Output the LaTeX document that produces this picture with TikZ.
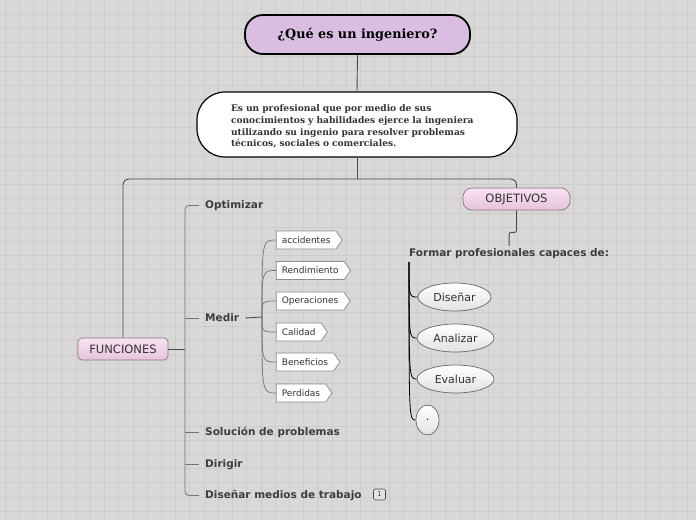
\documentclass[tikz,border=0pt]{standalone}
\usepackage{fontspec}
\usetikzlibrary{shapes.geometric,shapes.symbols}
\newfontfamily\serifb{DejaVu Serif}
\newfontfamily\sansf{DejaVu Sans}
\definecolor{bg}{HTML}{D9D8D7}
\definecolor{gridc}{HTML}{CCCCCC}
\definecolor{titlec}{HTML}{D9BEE2}
\definecolor{pinktop}{HTML}{F8E3F2}
\definecolor{pinkbot}{HTML}{E8C2DD}
\definecolor{pinkdraw}{HTML}{857580}
\definecolor{darkt}{HTML}{333333}
\definecolor{brt}{HTML}{3D3D3D}
\definecolor{linec}{HTML}{4A4A4A}
\definecolor{sublc}{HTML}{747474}
\definecolor{ellbot}{HTML}{E2E2E2}
\definecolor{elldraw}{HTML}{666666}
\definecolor{flagdraw}{HTML}{8C8C8C}
\definecolor{badgefill}{HTML}{E2E2E2}
\tikzset{
  titlebox/.style={draw=black, line width=1.8pt, fill=titlec, rounded corners=18pt,
    minimum width=225pt, minimum height=39pt, text=black,
    font=\serifb\bfseries\fontsize{12.8}{14}\selectfont},
  descbox/.style={draw=black, line width=1.2pt, fill=white, rounded corners=28pt,
    minimum width=320pt, minimum height=65pt, text width=252pt, align=left, text=darkt,
    font=\serifb\bfseries\fontsize{9.1}{11.7}\selectfont},
  pinkbox/.style={draw=pinkdraw, line width=0.7pt, top color=pinktop, bottom color=pinkbot,
    text=darkt, font=\sansf\fontsize{11.5}{13}\selectfont, minimum height=22pt, inner sep=0pt},
  conn/.style={draw=linec, line width=0.9pt},
  brline/.style={draw=sublc, line width=0.8pt},
  subline/.style={draw=sublc, line width=0.7pt},
  objline/.style={draw=black, line width=0.8pt},
  branch/.style={anchor=west, inner xsep=6pt, inner ysep=2pt, text=brt,
    font=\sansf\bfseries\fontsize{10.5}{12}\selectfont},
  flag/.style={signal, signal to=east, signal pointer angle=110, anchor=west,
    draw=flagdraw, line width=0.7pt, fill=white, text=darkt, inner xsep=5.5pt, inner ysep=0pt,
    minimum height=18pt, font=\sansf\fontsize{9}{10}\selectfont},
  ell/.style={ellipse, draw=elldraw, line width=0.7pt, top color=white, bottom color=ellbot,
    text=darkt, inner sep=0pt, minimum height=28pt, font=\sansf\fontsize{11}{12}\selectfont},
  badge/.style={draw=linec, line width=0.6pt, fill=badgefill, rounded corners=2pt,
    minimum width=12pt, minimum height=11pt, inner sep=0pt, text=darkt,
    font=\sansf\fontsize{6.5}{7}\selectfont}
}
\begin{document}
\begin{tikzpicture}[x=1pt,y=-1pt]
\fill[bg] (0,0) rectangle (696,520);
\useasboundingbox (0,0) rectangle (696,520);
\foreach \i in {0,...,49} {\draw[gridc,line width=0.8pt] ({5+14.22*\i},0) -- ++(0,520);}
\foreach \i in {1,...,37} {\draw[gridc,line width=0.8pt] (0,{14.2*\i}) -- ++(696,0);}

% main nodes
\node[titlebox] (title) at (357.5,34.5) {¿Qué es un ingeniero?};
\node[descbox] (desc) at (357,124.5) {\rule{0pt}{11pt}Es un profesional que por medio de sus\\conocimientos y habilidades ejerce la ingeniera\\utilizando su ingenio para resolver problemas\\técnicos, sociales o comerciales.};
\node[pinkbox, minimum width=90pt, rounded corners=4pt] (func) at (123,349) {FUNCIONES};
\node[pinkbox, minimum width=107pt, rounded corners=9pt] (obj) at (516.5,199) {OBJETIVOS};

\coordinate (hub) at (357,179);
\draw[conn] (title.south) -- (desc.north);
\draw[conn] (desc.south) -- (hub);
\draw[conn, rounded corners=6pt] (func.north) |- (hub) -| (obj.north);

% functions
\node[branch] (opt) at (199,205.5) {Optimizar};
\node[branch] (medir) at (199,318) {Medir};
\node[branch] (sol) at (199,432) {Solución de problemas};
\node[branch] (dir) at (199,464.5) {Dirigir};
\node[branch] (dis) at (199,495.5) {Diseñar medios de trabajo};
\node[badge] (badge) at (379.5,494.5) {1};
\coordinate (fj) at (185,349);
\draw[conn] (func.east) -- (fj);
\draw[brline, rounded corners=4pt] (opt.west) -| (fj) |- (dis.west);
\draw[brline] (medir.west) -- (medir.west -| fj);
\draw[brline] (sol.west) -- (sol.west -| fj);
\draw[brline] (dir.west) -- (dir.west -| fj);

% Medir sub items
\coordinate (mj) at (262,317);
\draw[conn] (medir.east) -- (mj);
\node[flag] (s1) at (276,240) {accidentes};
\node[flag] (s2) at (276,270.5) {Rendimiento};
\node[flag] (s3) at (276,301) {Operaciones};
\node[flag] (s4) at (276,332) {Calidad};
\node[flag] (s5) at (276,362) {Beneficios};
\node[flag] (s6) at (276,393) {Perdidas};
\foreach \s in {s1,s2,s3,s4,s5,s6} {\draw[subline] (mj) .. controls (mj |- \s.west) .. (\s.west);}

% objectives
\node[anchor=west, inner xsep=0pt, inner ysep=2pt, text=brt, font=\sansf\bfseries\fontsize{10.5}{12}\selectfont] (formar) at (409,253.5) {Formar profesionales capaces de:};
\draw[conn, rounded corners=2pt] (obj.south) -- ++(0,22) -| (formar.north);
\coordinate (oj) at (409,262);
\node[ell, minimum width=73pt] (e1) at (454.5,297) {Diseñar};
\node[ell, minimum width=77pt] (e2) at (455.5,338) {Analizar};
\node[ell, minimum width=77pt] (e3) at (455.5,379) {Evaluar};
\node[ell, minimum width=23pt, minimum height=30pt] (e4) at (427.5,420) {.};
\foreach \e in {e1,e2,e3,e4} {\draw[objline] (oj) .. controls (oj |- \e.west) .. (\e.west);}
\end{tikzpicture}
\end{document}
